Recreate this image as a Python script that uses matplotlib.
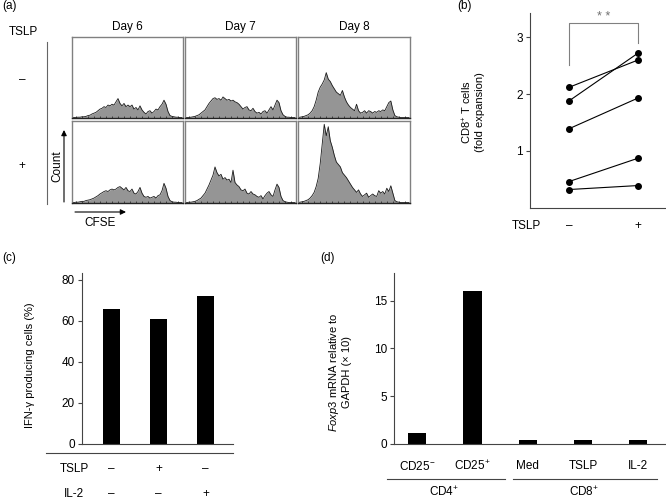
import matplotlib

matplotlib.use("Agg")
import matplotlib.pyplot as plt
import numpy as np

W, H = 666, 501

plt.rcParams["font.family"] = ["Liberation Sans", "DejaVu Sans"]
plt.rcParams["mathtext.fontset"] = "custom"
plt.rcParams["mathtext.rm"] = "Liberation Sans"
plt.rcParams["mathtext.it"] = "Liberation Sans:italic"
plt.rcParams["font.size"] = 8.5

# (a) CFSE histograms, height in % of panel, one row per TSLP condition
DAYS = ["Day 6", "Day 7", "Day 8"]
ROW_SIGNS = ["–", "+"]
HIST_MINUS = [
    [0.5, 0.5, 0.8, 1, 1, 1.5, 1.5, 2, 3, 3.5, 5, 6, 7, 9, 11, 12, 14, 13, 16, 15,
     17, 16, 20, 24, 18, 15, 18, 14, 16, 14, 16, 11, 13, 10, 15, 10, 7, 5, 8, 9,
     6, 8, 11, 10, 14, 17, 22, 17, 8, 3, 2, 1.5, 1, 1, 0.5, 0.5],
    [0.5, 0.5, 0.8, 1, 1.5, 2, 3, 4, 6, 8, 10, 14, 18, 21, 24, 25, 23, 24, 22, 26,
     24, 22, 23, 21, 22, 20, 19, 17, 14, 11, 13, 14, 10, 9, 12, 8, 6, 7, 5, 8,
     9, 6, 10, 14, 10, 16, 22, 19, 9, 4, 2, 1, 1, 0.5, 0.5, 0.5],
    [0.5, 1, 1.5, 2, 3, 4, 6, 9, 14, 22, 32, 38, 42, 47, 56, 48, 45, 40, 36, 32,
     30, 28, 34, 26, 20, 16, 13, 11, 9, 17, 9, 6, 7, 9, 6, 9, 8, 6, 8, 7,
     9, 8, 10, 9, 14, 19, 21, 10, 3, 1.5, 1, 0.5, 0.5, 0.5, 0.5, 0.5],
]
HIST_PLUS = [
    [0.5, 0.5, 1, 1, 1.5, 2, 2, 3, 3.5, 4, 5, 6, 7.5, 9, 11, 12.5, 14, 15, 14, 16,
     17, 16, 17, 19, 20, 18, 16, 19, 15, 14, 17, 12, 11, 14, 19, 12, 8, 7, 8, 6,
     7, 8, 6, 9, 10, 15, 24, 18, 8, 3, 1.5, 1, 1, 0.5, 0.5, 0.5],
    [0.5, 0.5, 1, 1, 1.5, 2, 3, 4.5, 6, 9, 12, 17, 22, 28, 34, 44, 37, 33, 35, 29,
     31, 28, 29, 25, 40, 25, 22, 20, 16, 15, 17, 12, 11, 14, 11, 10, 8, 7, 9, 5,
     9, 12, 14, 10, 8, 16, 23, 19, 8, 3, 1.5, 1, 0.5, 0.5, 0.5, 0.5],
    [0.5, 1, 1.5, 2, 3, 4, 6, 9, 13, 20, 30, 48, 72, 96, 82, 93, 76, 68, 58, 50,
     47, 44, 37, 34, 31, 27, 23, 19, 16, 13, 16, 11, 8, 10, 12, 7, 9, 11, 9, 8,
     15, 12, 14, 11, 18, 14, 21, 12, 3, 1.5, 1, 0.5, 0.5, 0.5, 0.5, 0.5],
]

# (b) paired fold expansion
B_TICKLABELS = ["–", "+"]
B_MINUS = [2.12, 1.88, 1.39, 0.46, 0.32]
B_PLUS = [2.60, 2.72, 1.93, 0.87, 0.39]

# (c) IFN-gamma producing cells
C_VALUES = [66, 61, 72]
C_TSLP = ["–", "+", "–"]
C_IL2 = ["–", "–", "+"]

# (d) Foxp3 mRNA
D_LABELS = ["CD25$^{-}$", "CD25$^{+}$", "Med", "TSLP", "IL-2"]
D_VALUES = [1.15, 16.0, 0.45, 0.45, 0.45]
D_GROUPS = ["CD4$^{+}$", "CD8$^{+}$"]

AX_COLOR = "#444444"


def px_axes(fig, left, top, right, bottom):
    return fig.add_axes([left / W, 1 - bottom / H, (right - left) / W, (bottom - top) / H])


def style_axis(ax):
    for side in ("top", "right"):
        ax.spines[side].set_visible(False)
    for side in ("left", "bottom"):
        ax.spines[side].set_color(AX_COLOR)
        ax.spines[side].set_linewidth(0.8)
    ax.tick_params(axis="y", direction="out", length=3, width=0.8, color=AX_COLOR, pad=2)
    ax.set_xticks([])


def draw_histograms(fig):
    cols = [(72, 183), (185, 296), (298, 410)]
    rows = [(37, 118), (121, 203)]
    for r, data in enumerate([HIST_MINUS, HIST_PLUS]):
        for c, values in enumerate(data):
            ax = px_axes(fig, cols[c][0], rows[r][0], cols[c][1], rows[r][1])
            x = np.arange(len(values))
            ax.fill_between(x, values, color="#959595", lw=0)
            ax.plot(x, values, color="#1a1a1a", lw=0.6)
            ax.set_xlim(0, len(values) - 0.5)
            ax.set_ylim(0, 100)
            ax.set_xticks(x[2::3])
            ax.tick_params(axis="x", direction="in", length=1.5, width=0.6,
                           color="#333333", labelbottom=False)
            ax.set_yticks([])
            for spine in ax.spines.values():
                spine.set_color("#808080")
                spine.set_linewidth(1.0)
            ax.spines["bottom"].set_color("#222222")
    for c, day in enumerate(DAYS):
        fig.text((cols[c][0] + cols[c][1]) / 2 / W, 1 - 27 / H, day, ha="center", va="center")


def main():
    fig = plt.figure(figsize=(W / 100, H / 100), dpi=100)

    # ---- (a)
    draw_histograms(fig)

    # ---- (b)
    ax_b = px_axes(fig, 530, 13, 666, 207.7)
    for m, p in zip(B_MINUS, B_PLUS):
        ax_b.plot([0, 1], [m, p], color="k", lw=0.8, marker="o", ms=4)
    ax_b.plot([0, 0, 1, 1], [2.52, 3.26, 3.26, 2.91], color="#808080", lw=0.8)
    ax_b.text(0.5, 3.36, "* *", ha="center", va="center", color="#707070", fontsize=9)
    ax_b.set_xlim(-0.565, 1.41)
    ax_b.set_ylim(0, 3.43)
    ax_b.set_yticks([1, 2, 3])
    style_axis(ax_b)
    ax_b.set_ylabel("CD8$^{+}$ T cells\n(fold expansion)", fontsize=8, linespacing=1.1)
    ax_b.yaxis.set_label_coords(-0.33, 0.49)
    tr_b = ax_b.get_xaxis_transform()
    ax_b.text(-0.62, -0.094, "TSLP", transform=tr_b, ha="center", va="center")
    for i, lab in enumerate(B_TICKLABELS):
        ax_b.text(i, -0.094, lab, transform=tr_b, ha="center", va="center")

    # ---- (c)
    ax_c = px_axes(fig, 82, 273, 233, 444)
    xc = np.arange(len(C_VALUES))
    ax_c.bar(xc, C_VALUES, width=0.35, color="k")
    ax_c.set_xlim(-0.62, 2.58)
    ax_c.set_ylim(0, 83.4)
    ax_c.set_yticks([0, 20, 40, 60, 80])
    style_axis(ax_c)
    ax_c.set_ylabel("IFN-γ producing cells (%)", fontsize=8)
    ax_c.yaxis.set_label_coords(-0.31, 0.46)
    tr_c = ax_c.get_xaxis_transform()
    ax_c.plot([-1.38, 2.58], [-0.053, -0.053], transform=tr_c, color=AX_COLOR, lw=0.8, clip_on=False)
    ax_c.text(-0.79, -0.146, "TSLP", transform=tr_c, ha="center", va="center")
    ax_c.text(-0.79, -0.292, "IL-2", transform=tr_c, ha="center", va="center")
    for i in xc:
        ax_c.text(i, -0.146, C_TSLP[i], transform=tr_c, ha="center", va="center")
        ax_c.text(i, -0.292, C_IL2[i], transform=tr_c, ha="center", va="center")

    # ---- (d)
    ax_d = px_axes(fig, 394, 273, 666, 444)
    xd = np.arange(len(D_VALUES))
    ax_d.bar(xd, D_VALUES, width=0.33, color="k")
    ax_d.set_xlim(-0.42, 4.5)
    ax_d.set_ylim(0, 17.9)
    ax_d.set_yticks([0, 5, 10, 15])
    style_axis(ax_d)
    ax_d.set_ylabel("$\\it{Foxp3}$ mRNA relative to\nGAPDH (× 10)", fontsize=8, linespacing=1.1)
    ax_d.yaxis.set_label_coords(-0.155, 0.42)
    tr_d = ax_d.get_xaxis_transform()
    for i, lab in enumerate(D_LABELS):
        ax_d.text(i, -0.129, lab, transform=tr_d, ha="center", va="center")
    for (x0, x1), name in zip([(-0.55, 1.58), (1.74, 4.34)], D_GROUPS):
        ax_d.plot([x0, x1], [-0.205, -0.205], transform=tr_d, color=AX_COLOR, lw=0.8, clip_on=False)
        ax_d.text((x0 + x1) / 2 - 0.03, -0.28, name, transform=tr_d, ha="center", va="center")

    # ---- annotations in pixel space
    ov = fig.add_axes([0, 0, 1, 1])
    ov.set_xlim(0, W)
    ov.set_ylim(H, 0)
    ov.axis("off")
    ov.text(2, 6, "(a)", va="center", ha="left")
    ov.text(457, 6, "(b)", va="center", ha="left")
    ov.text(2, 258, "(c)", va="center", ha="left")
    ov.text(320, 258, "(d)", va="center", ha="left")
    ov.text(23, 32, "TSLP", ha="center", va="center")
    ov.text(22, 80, ROW_SIGNS[0], ha="center", va="center")
    ov.text(22, 166, ROW_SIGNS[1], ha="center", va="center")
    ov.plot([47, 47], [42, 204], color="#666666", lw=0.8)
    arrow = dict(arrowstyle="-|>", color="k", lw=0.8, mutation_scale=8, shrinkA=0, shrinkB=0)
    ov.annotate("", xy=(64, 130), xytext=(64, 202), arrowprops=arrow)
    ov.annotate("", xy=(126, 212), xytext=(75, 212), arrowprops=arrow)
    ov.text(57, 166, "Count", rotation=90, ha="center", va="center")
    ov.text(100, 223, "CFSE", ha="center", va="center")

    fig.savefig("out.png", dpi=100)
    plt.close(fig)


if __name__ == "__main__":
    main()
